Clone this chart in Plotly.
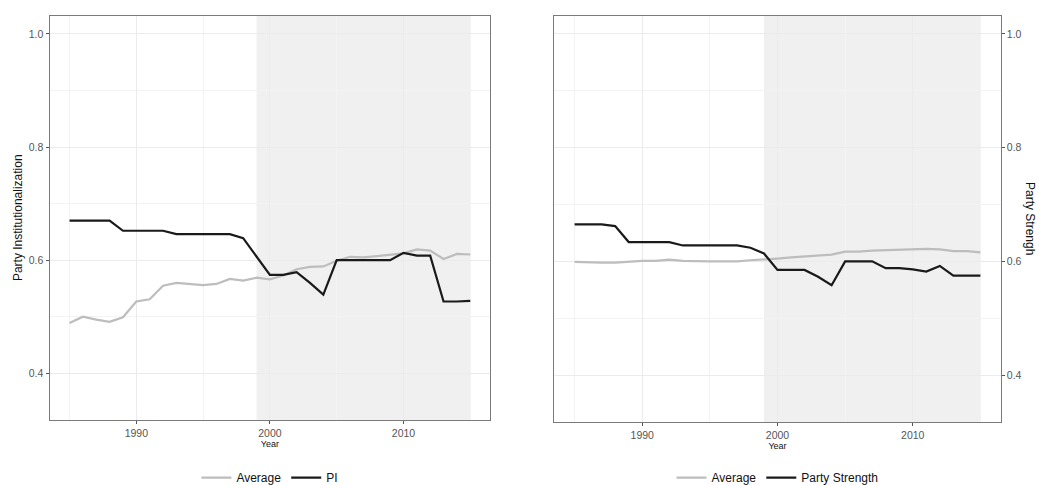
import plotly.graph_objects as go

years = [1985, 1986, 1987, 1988, 1989, 1990, 1991, 1992, 1993, 1994, 1995,
         1996, 1997, 1998, 1999, 2000, 2001, 2002, 2003, 2004, 2005, 2006,
         2007, 2008, 2009, 2010, 2011, 2012, 2013, 2014, 2015]

pi_values = [0.670, 0.670, 0.670, 0.670, 0.652, 0.652, 0.652, 0.652, 0.646, 0.646, 0.646,
             0.646, 0.646, 0.639, 0.607, 0.574, 0.574, 0.579, 0.560, 0.539, 0.600, 0.600,
             0.600, 0.600, 0.600, 0.613, 0.608, 0.608, 0.527, 0.527, 0.528]
pi_average = [0.489, 0.500, 0.495, 0.491, 0.499, 0.527, 0.531, 0.555, 0.560, 0.558, 0.556,
              0.558, 0.567, 0.564, 0.569, 0.566, 0.573, 0.584, 0.588, 0.589, 0.599, 0.606,
              0.605, 0.607, 0.609, 0.612, 0.619, 0.617, 0.602, 0.611, 0.610]

ps_values = [0.665, 0.665, 0.665, 0.662, 0.634, 0.634, 0.634, 0.634, 0.628, 0.628, 0.628,
             0.628, 0.628, 0.624, 0.614, 0.585, 0.585, 0.585, 0.573, 0.558, 0.600, 0.600,
             0.600, 0.588, 0.588, 0.586, 0.582, 0.592, 0.575, 0.575, 0.575]
ps_average = [0.599, 0.598, 0.598, 0.598, 0.600, 0.601, 0.601, 0.603, 0.601, 0.600, 0.600,
              0.600, 0.600, 0.602, 0.603, 0.605, 0.607, 0.609, 0.611, 0.612, 0.617, 0.617,
              0.619, 0.620, 0.621, 0.622, 0.622, 0.621, 0.618, 0.618, 0.616]

shade_start = 1999
shade_end = 2015

W, H = 1039, 485
GRAY = "#bdbdbd"
BLACK = "#1a1a1a"
FONT = "Liberation Sans, Arial, sans-serif"

fig = go.Figure()

fig.add_trace(go.Scatter(x=years, y=pi_average, mode="lines", name="Average",
                         line=dict(color=GRAY, width=2.2), xaxis="x", yaxis="y",
                         legend="legend"))
fig.add_trace(go.Scatter(x=years, y=pi_values, mode="lines", name="PI",
                         line=dict(color=BLACK, width=2.2), xaxis="x", yaxis="y",
                         legend="legend"))
fig.add_trace(go.Scatter(x=years, y=ps_average, mode="lines", name="Average",
                         line=dict(color=GRAY, width=2.2), xaxis="x2", yaxis="y2",
                         legend="legend2"))
fig.add_trace(go.Scatter(x=years, y=ps_values, mode="lines", name="Party Strength",
                         line=dict(color=BLACK, width=2.2), xaxis="x2", yaxis="y2",
                         legend="legend2"))

for xr in ["x", "x2"]:
    fig.add_shape(type="rect", xref=xr, yref=("y" if xr == "x" else "y2") + " domain",
                  x0=shade_start, x1=shade_end, y0=0, y1=1,
                  fillcolor="#f0f0f0", line=dict(width=0), layer="below")

xrange = [1983.5, 2016.5]
yrange = [0.3175, 1.0325]

common_x = dict(range=xrange, tickmode="array", tickvals=[1990, 2000, 2010],
                ticktext=["1990", "2000", "2010"], showgrid=True, gridcolor="#ebebeb",
                gridwidth=1, zeroline=False, showline=True, linecolor="#7a7a7a",
                linewidth=1, mirror=True, ticks="outside", ticklen=3, tickcolor="#555555",
                tickfont=dict(family=FONT, size=10.5, color="#555555"),
                automargin=False,
                minor=dict(tickvals=[1985, 1995, 2005, 2015], showgrid=True,
                           gridcolor="#f3f3f3", gridwidth=1, ticks=""),
                title=dict(text="Year", font=dict(family=FONT, size=9, color="#111111"),
                           standoff=3))
common_y = dict(range=yrange, tickmode="array", tickvals=[0.4, 0.6, 0.8, 1.0],
                ticktext=["0.4", "0.6", "0.8", "1.0"], showgrid=True, gridcolor="#ebebeb",
                gridwidth=1, zeroline=False, showline=True, linecolor="#7a7a7a",
                linewidth=1, mirror=True, ticks="outside", ticklen=3, tickcolor="#555555",
                tickfont=dict(family=FONT, size=10.5, color="#555555"),
                automargin=False,
                minor=dict(tickvals=[0.5, 0.7, 0.9], showgrid=True,
                           gridcolor="#f3f3f3", gridwidth=1, ticks=""))

fig.update_layout(
    width=W, height=H,
    margin=dict(l=0, r=0, t=0, b=0, autoexpand=False),
    paper_bgcolor="white", plot_bgcolor="white",
    font=dict(family=FONT, size=12, color="#111111"),
    xaxis=dict(domain=[49.5 / W, 490.3 / W], anchor="y", **common_x),
    xaxis2=dict(domain=[554.3 / W, 1000.7 / W], anchor="y2", **common_x),
    yaxis=dict(domain=[1 - 420 / H, 1 - 15.5 / H], anchor="x", side="left",
               title=dict(text="Party Institutionalization",
                          font=dict(family=FONT, size=12, color="#111111"), standoff=3),
               **common_y),
    yaxis2=dict(domain=[1 - 422 / H, 1 - 15.5 / H], anchor="x2", side="right",
                **common_y),
    legend=dict(orientation="h", x=(49.5 + 490.3) / 2 / W, xanchor="center",
                y=1 - 477.7 / H, yanchor="middle", font=dict(family=FONT, size=12),
                bgcolor="rgba(0,0,0,0)", itemwidth=30),
    legend2=dict(orientation="h", x=(554.3 + 1000.7) / 2 / W, xanchor="center",
                 y=1 - 477.7 / H, yanchor="middle", font=dict(family=FONT, size=12),
                 bgcolor="rgba(0,0,0,0)", itemwidth=30),
    showlegend=True,
)

fig.add_annotation(text="Party Strengh", xref="paper", yref="paper",
                   x=1030 / W, y=1 - 218 / H, textangle=90, showarrow=False,
                   font=dict(family=FONT, size=12, color="#111111"),
                   xanchor="center", yanchor="middle")

fig.write_html(
    "out.html",
    config={"displayModeBar": False},
    post_script="document.body.style.margin='0';document.body.style.padding='0';"
                "document.documentElement.style.overflow='hidden';",
)
